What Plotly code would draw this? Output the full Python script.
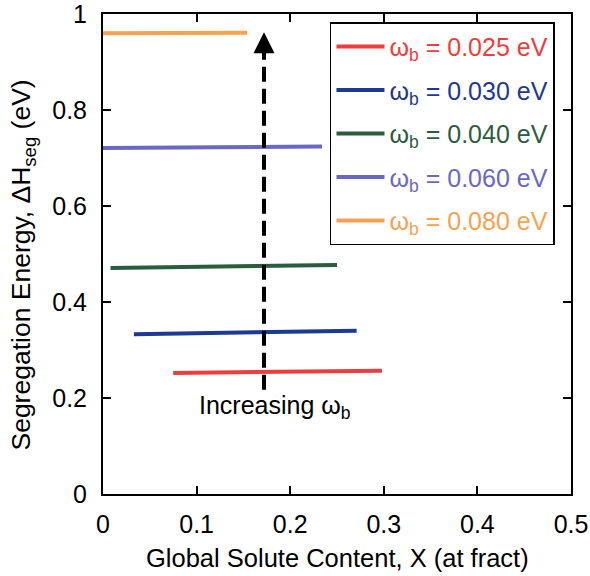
import plotly.graph_objects as go

# Data
omega_b = ["0.025", "0.030", "0.040", "0.060", "0.080"]
colors = ["#ee3d3d", "#1c3a92", "#2b5c3e", "#6a68c6", "#f7a24e"]
x_start = [0.075, 0.033, 0.008, 0.0, 0.0]
x_end = [0.298, 0.271, 0.250, 0.234, 0.154]
y_start = [0.252, 0.333, 0.471, 0.721, 0.960]
y_end = [0.257, 0.340, 0.477, 0.724, 0.961]

arrow_x = [0.172, 0.172]
arrow_y = [0.217, 0.93]
arrow_tip_y = [0.962]

xtick_vals = [0, 0.1, 0.2, 0.3, 0.4, 0.5]
xtick_text = ["0", "0.1", "0.2", "0.3", "0.4", "0.5"]
ytick_vals = [0, 0.2, 0.4, 0.6, 0.8, 1.0]
ytick_text = ["0", "0.2", "0.4", "0.6", "0.8", "1"]

FONT = "Liberation Sans, Arial, sans-serif"

fig = go.Figure()
for i, w in enumerate(omega_b):
    fig.add_trace(go.Scatter(
        x=[x_start[i], x_end[i]], y=[y_start[i], y_end[i]],
        mode="lines", line=dict(color=colors[i], width=4),
        name=f"<span style='color:{colors[i]}'>ω<sub>b</sub> = {w} eV</span>",
        legendgroup=f"g{i}",
    ))

fig.add_trace(go.Scatter(
    x=arrow_x, y=arrow_y, mode="lines",
    line=dict(color="black", width=4, dash="15px,7px"),
    showlegend=False, hoverinfo="skip",
))
fig.add_trace(go.Scatter(
    x=[arrow_x[0]], y=arrow_tip_y, mode="markers",
    marker=dict(symbol="arrow-up", size=21, color="black", line=dict(width=0)),
    showlegend=False, hoverinfo="skip",
))

fig.add_annotation(
    x=0.184, y=0.181, xref="x", yref="y", xanchor="center", yanchor="middle",
    text="Increasing ω<sub>b</sub>", showarrow=False,
    font=dict(family=FONT, size=25, color="black"),
)
fig.add_annotation(
    x=-0.171, y=0.478, xref="paper", yref="paper", textangle=-90,
    xanchor="center", yanchor="middle",
    text="Segregation Energy, ΔH<sub>seg</sub> (eV)", showarrow=False,
    font=dict(family=FONT, size=26.5, color="black"),
)
fig.add_annotation(
    x=0.501, y=-0.133, xref="paper", yref="paper",
    xanchor="center", yanchor="middle",
    text="Global Solute Content, X (at fract)", showarrow=False,
    font=dict(family=FONT, size=25.5, color="black"),
)

axis_common = dict(
    showline=True, linecolor="black", linewidth=2, mirror="ticks",
    ticks="inside", ticklen=8, tickwidth=1.5, tickcolor="black",
    showgrid=False, zeroline=False, automargin=False,
    ticklabeloverflow="allow",
    tickfont=dict(family=FONT, size=25, color="black"),
)

fig.update_layout(
    width=590, height=576,
    margin=dict(l=103, r=19, t=14, b=82),
    paper_bgcolor="white", plot_bgcolor="white",
    xaxis=dict(range=[0, 0.5], tickvals=xtick_vals, ticktext=xtick_text,
               ticklabelstandoff=7, **axis_common),
    yaxis=dict(range=[0, 1], tickvals=ytick_vals, ticktext=ytick_text,
               ticklabelstandoff=9, **axis_common),
    legend=dict(
        x=0.485, y=0.983, xanchor="left", yanchor="top",
        bgcolor="white", bordercolor="black", borderwidth=1.5,
        font=dict(family=FONT, size=25),
        tracegroupgap=8, itemwidth=48,
    ),
    showlegend=True,
)

fig.write_html("out.html")
